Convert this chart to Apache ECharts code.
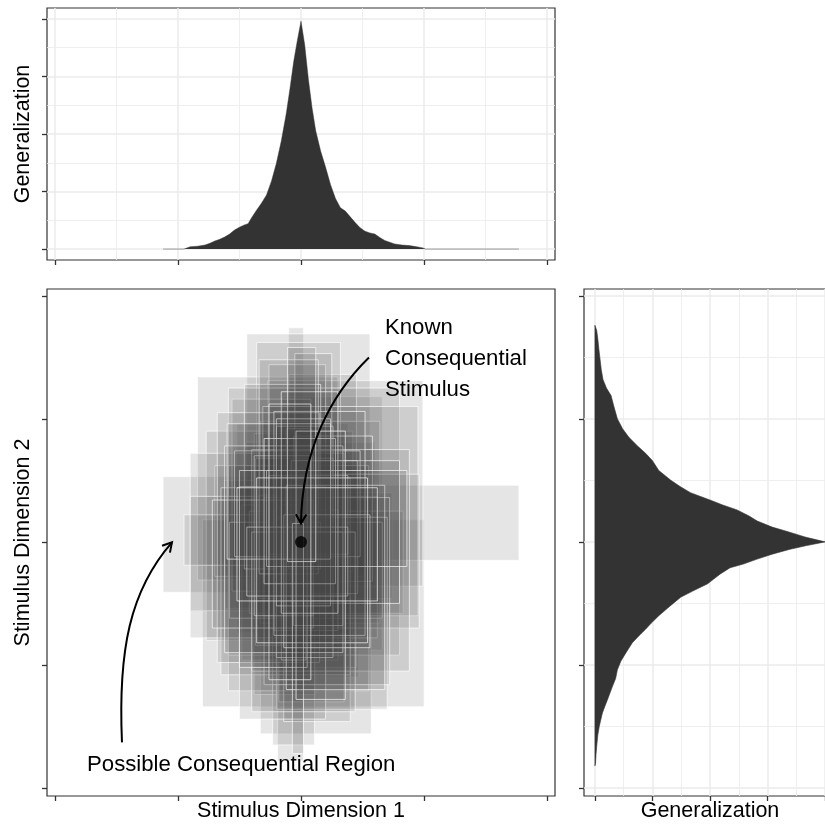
<!DOCTYPE html>
<html><head><meta charset="utf-8">
<script src="https://cdn.jsdelivr.net/npm/echarts@6/dist/echarts.min.js"></script>
<style>html,body{margin:0;padding:0;background:#fff}#chart{width:825px;height:827px}</style>
</head><body><div id="chart"></div>
<script>
// ---- tick positions ----
const dimMajorTicks = [-2, -1, 0, 1, 2];
const dimMinorTicks = [-1.5, -0.5, 0.5, 1.5];
const genMajorTicks = [0, 1, 2, 3, 4];
const genMinorTicks = [0.5, 1.5, 2.5, 3.5];

// ---- hypothesised consequential regions (rectangles) ----
const rectX1 = [-1.12,-0.52,-0.10,-0.18,-0.80,-0.28,-0.44,-0.45,-0.10,-0.45,
 -0.15,-0.84,-0.62,-0.24,-0.33,-0.38,-0.77,-0.24,-0.06,-0.27,
 -0.70,-0.19,-0.10,-0.30,-0.90,-0.48,-0.36,-0.33,-0.14,-0.59,
 -0.56,-0.95,-0.18,-0.20,-0.59,-0.42,-0.23,-0.26,-0.08,-0.90,
 -0.65,-0.31,-0.06,-0.34,-0.05,-0.37,-0.12,-0.58,-0.12,-0.68,
 -0.14,-0.22,-0.40,-0.46,-0.04,-0.20,-0.30,-0.16,-0.50,-0.54,
 -0.26,-0.20,-0.72,-0.10,-0.08,-0.40,-0.38,-0.34,-0.62,-0.06,
 -0.22,-0.50,-0.20,-0.12,-0.44,-0.14,-0.28,-0.60,-0.30,-0.16,
 -0.36,-0.07,-0.04,-0.52,-0.11,-0.26];
const rectX2 = [0.35,0.38,0.02,0.22,1.00,0.47,0.56,0.60,0.32,1.77,
 0.66,0.30,0.18,0.14,0.57,0.12,0.42,0.74,0.18,0.99,
 0.52,0.02,0.45,0.06,0.28,0.30,0.32,0.64,0.42,0.55,
 0.08,0.46,0.35,0.12,0.80,0.83,0.11,0.20,0.26,0.62,
 0.40,0.95,0.58,0.20,0.25,0.26,0.96,0.66,0.08,0.15,
 0.40,0.30,0.88,0.16,0.46,0.70,0.72,0.04,0.20,0.48,
 0.38,0.26,0.10,0.16,0.80,0.44,0.10,0.14,0.34,0.34,
 0.52,0.05,0.24,0.68,0.38,0.56,0.86,0.24,0.28,0.30,
 0.54,0.02,0.36,0.62,0.12,0.08];
const rectY1 = [-0.41,-0.74,-0.62,-0.40,-1.34,-1.10,-0.22,-0.35,-0.56,-0.15,
 -0.88,-0.31,-0.54,-0.30,-1.56,-1.24,-0.80,-0.46,-0.80,-0.36,
 -0.28,-1.78,-1.02,-0.18,-0.56,-0.96,-0.48,-0.66,-0.24,-1.21,
 -0.40,-0.19,-1.30,-0.64,-0.92,-0.58,-1.65,-0.70,-0.12,-0.78,
 -1.08,-0.60,-0.32,-0.46,-0.30,-0.84,-0.70,-0.62,-0.36,-0.98,
 -1.46,-0.72,-1.05,-0.22,-0.42,-1.36,-1.16,-0.96,-1.44,-0.12,
 -0.10,-0.94,-0.70,-0.22,-0.50,-1.38,-0.60,-0.26,-0.90,-0.68,
 -0.76,-1.02,-0.52,-1.20,-0.44,-0.86,-0.20,-0.14,-0.34,-0.58,
 -0.82,-1.72,-1.28,-0.48,-0.16,-1.12];
const rectY2 = [0.53,0.96,1.74,0.62,0.18,0.64,1.69,0.81,0.36,0.46,
 1.18,1.34,0.50,0.28,0.34,0.88,0.90,0.40,0.52,1.31,
 0.62,0.28,1.36,0.78,0.72,0.30,1.62,0.98,0.20,0.62,
 1.16,0.22,0.72,0.14,1.25,0.25,0.52,1.44,0.48,0.37,
 0.44,1.10,0.86,0.38,1.53,0.68,0.55,0.16,0.92,1.05,
 0.52,0.26,0.75,1.28,0.66,0.20,0.36,0.30,0.45,0.74,
 0.54,0.94,0.34,0.16,0.66,0.08,0.70,1.48,0.78,0.08,
 1.06,0.58,1.00,0.46,0.12,0.22,0.58,0.96,0.84,1.22,
 0.52,0.15,0.90,0.44,1.58,1.12];

// ---- known consequential stimulus ----
const stimulusX = [0];
const stimulusY = [0];

// ---- generalization along dimension 1 (top panel) ----
const gen1X = [-1.12,-0.95,-0.94,-0.90,-0.84,-0.78,-0.74,-0.70,-0.66,-0.62,-0.58,-0.54,-0.50,-0.46,-0.43,
 -0.40,-0.36,-0.32,-0.28,-0.24,-0.20,-0.16,-0.12,-0.09,-0.06,-0.03,0,0.03,0.06,0.09,0.12,0.16,0.20,
 0.24,0.28,0.32,0.36,0.40,0.44,0.48,0.52,0.56,0.60,0.64,0.68,0.72,0.76,0.82,0.88,0.94,0.99,1.01,1.77];
const gen1V = [0,0,0.02,0.04,0.05,0.07,0.10,0.14,0.17,0.21,0.26,0.33,0.38,0.42,0.44,
 0.55,0.68,0.80,0.94,1.18,1.49,1.88,2.35,2.78,3.25,3.62,3.96,3.55,2.95,2.45,2.05,1.70,1.42,
 1.12,0.88,0.72,0.66,0.56,0.46,0.37,0.31,0.28,0.26,0.20,0.15,0.12,0.09,0.07,0.06,0.04,0.02,0,0];

// ---- generalization along dimension 2 (right panel) ----
const gen2Y = [1.76,1.72,1.65,1.56,1.48,1.40,1.32,1.25,1.19,1.10,1.00,0.92,0.85,0.78,0.72,0.66,0.58,0.50,
 0.45,0.40,0.34,0.30,0.26,0.21,0.17,0.12,0.085,0.04,0,-0.03,-0.06,-0.10,-0.14,-0.18,-0.21,-0.26,-0.30,
 -0.34,-0.40,-0.45,-0.50,-0.54,-0.60,-0.66,-0.71,-0.76,-0.82,-0.90,-0.97,-1.04,-1.11,-1.18,-1.28,-1.34,
 -1.39,-1.45,-1.50,-1.57,-1.64,-1.72,-1.80,-1.82];
const gen2V = [0,0.03,0.05,0.07,0.09,0.11,0.14,0.20,0.28,0.33,0.39,0.48,0.59,0.74,0.88,1.00,1.11,1.32,
 1.48,1.66,2.00,2.22,2.47,2.68,2.82,3.08,3.34,3.65,4.00,3.68,3.39,3.08,2.82,2.58,2.35,2.18,2.07,
 1.96,1.70,1.49,1.36,1.26,1.11,0.98,0.88,0.77,0.65,0.54,0.45,0.39,0.36,0.30,0.22,0.17,
 0.13,0.10,0.075,0.05,0.035,0.02,0.01,0];

// ---- annotations (data units) ----
const arrowCurves = [
  [0.552, 1.499, 0.236, 1.190, 0.008, 0.743, 0.000, 0.150],
  [-1.454, -1.629, -1.487, -0.881, -1.389, -0.394, -1.048, -0.004]
];
const labelText = ['Known\nConsequential\nStimulus', 'Possible Consequential Region'];
const labelX = [0.682, -1.738];
const labelY = [1.491, -1.816];

// ---- styles ----
const FONT = 'Liberation Sans';
const frame = { show: true, borderColor: '#333333', borderWidth: 1.2, backgroundColor: 'rgba(0,0,0,0)', outerBoundsMode: 'none', containLabel: false };
const gridColor = '#ebebeb';

function majorAxis(grid, min, max, ticks, opts) {
  return Object.assign({
    type: 'value', gridIndex: grid, min: min, max: max,
    axisLine: { show: false, onZero: false },
    axisTick: { show: true, inside: false, length: 5, customValues: ticks, lineStyle: { color: '#333333', width: 1.3 } },
    axisLabel: { show: false, customValues: ticks },
    splitLine: { show: false },
    nameTextStyle: { fontSize: 21.5, color: '#000', fontFamily: FONT },
    nameLocation: 'middle'
  }, opts || {});
}
function minorAxis(grid, min, max, ticks, position) {
  return {
    type: 'value', gridIndex: grid, min: min, max: max, position: position,
    axisLine: { show: false, onZero: false },
    axisTick: { show: false, customValues: ticks },
    axisLabel: { show: false, customValues: ticks },
    splitLine: { show: true, lineStyle: { color: gridColor, width: 0.8 } }
  };
}
const majorSplit = { show: true, lineStyle: { color: gridColor, width: 1.5 } };

const option = {
  animation: false,
  backgroundColor: '#ffffff',
  textStyle: { fontFamily: FONT },
  grid: [
    Object.assign({ left: 47, top: 8, width: 508, height: 252 }, frame),
    Object.assign({ left: 47, top: 289, width: 508, height: 507 }, frame),
    Object.assign({ left: 584, top: 289, width: 252, height: 507 }, frame)
  ],
  xAxis: [
    majorAxis(0, -2.063, 2.063, dimMajorTicks, { position: 'bottom', splitLine: majorSplit }),
    minorAxis(0, -2.063, 2.063, dimMinorTicks, 'top'),
    majorAxis(1, -2.063, 2.063, dimMajorTicks, { position: 'bottom', name: 'Stimulus Dimension 1', nameGap: 4 }),
    majorAxis(2, -0.19, 4.19, genMajorTicks, { position: 'bottom', splitLine: majorSplit, name: 'Generalization', nameGap: 4 }),
    minorAxis(2, -0.19, 4.19, genMinorTicks, 'top')
  ],
  yAxis: [
    majorAxis(0, -0.19, 4.19, genMajorTicks, { position: 'left', splitLine: majorSplit, name: 'Generalization', nameGap: 13 }),
    minorAxis(0, -0.19, 4.19, genMinorTicks, 'right'),
    majorAxis(1, -2.065, 2.055, dimMajorTicks, { position: 'left', name: 'Stimulus Dimension 2', nameGap: 13 }),
    majorAxis(2, -2.065, 2.055, dimMajorTicks, { position: 'left', splitLine: majorSplit }),
    minorAxis(2, -2.065, 2.055, dimMinorTicks, 'right')
  ],
  series: [
    {
      name: 'Generalization (dimension 1)', type: 'line', xAxisIndex: 0, yAxisIndex: 0,
      data: gen1X.map((x, i) => [x, gen1V[i]]),
      symbol: 'none', smooth: false, z: 3,
      lineStyle: { color: '#333333', width: 1, opacity: 0.45 },
      areaStyle: { color: '#333333', opacity: 1 }
    },
    {
      name: 'Consequential regions', type: 'custom', xAxisIndex: 2, yAxisIndex: 2,
      data: rectX1.map((x, i) => [x, rectX2[i], rectY1[i], rectY2[i]]),
      encode: { x: [0, 1], y: [2, 3] },
      clip: true, z: 2,
      renderItem: function (params, api) {
        const a = api.coord([api.value(0), api.value(3)]);
        const b = api.coord([api.value(1), api.value(2)]);
        return {
          type: 'rect',
          shape: { x: a[0], y: a[1], width: b[0] - a[0], height: b[1] - a[1] },
          style: { fill: 'rgba(74,74,74,0.14)', stroke: 'rgba(255,255,255,0.85)', lineWidth: 0.8 }
        };
      }
    },
    {
      name: 'Known consequential stimulus', type: 'scatter', xAxisIndex: 2, yAxisIndex: 2,
      data: stimulusX.map((x, i) => [x, stimulusY[i]]),
      symbol: 'circle', symbolSize: 12, itemStyle: { color: '#000000' }, z: 5
    },
    {
      name: 'Arrows', type: 'custom', xAxisIndex: 2, yAxisIndex: 2,
      data: arrowCurves, encode: { x: [0, 2, 4, 6], y: [1, 3, 5, 7] }, z: 6, clip: false,
      renderItem: function (params, api) {
        const p0 = api.coord([api.value(0), api.value(1)]);
        const c1 = api.coord([api.value(2), api.value(3)]);
        const c2 = api.coord([api.value(4), api.value(5)]);
        const p3 = api.coord([api.value(6), api.value(7)]);
        const ang = Math.atan2(p3[1] - c2[1], p3[0] - c2[0]);
        const L = 10.5, h = Math.PI / 6;
        const l1 = [p3[0] - L * Math.cos(ang - h), p3[1] - L * Math.sin(ang - h)];
        const l2 = [p3[0] - L * Math.cos(ang + h), p3[1] - L * Math.sin(ang + h)];
        return {
          type: 'group',
          children: [
            { type: 'bezierCurve', shape: { x1: p0[0], y1: p0[1], cpx1: c1[0], cpy1: c1[1], cpx2: c2[0], cpy2: c2[1], x2: p3[0], y2: p3[1] },
              style: { stroke: '#000', lineWidth: 2, fill: null } },
            { type: 'polyline', shape: { points: [l1, p3, l2] },
              style: { stroke: '#000', lineWidth: 2, fill: null, lineJoin: 'miter' } }
          ]
        };
      }
    },
    {
      name: 'Labels', type: 'custom', xAxisIndex: 2, yAxisIndex: 2,
      data: labelX.map((x, i) => [x, labelY[i], i]), z: 7, clip: false,
      renderItem: function (params, api) {
        const p = api.coord([api.value(0), api.value(1)]);
        return {
          type: 'text', x: p[0], y: p[1],
          style: { text: labelText[api.value(2)], fontSize: 22.2, fontFamily: FONT, fill: '#000',
                   align: 'left', verticalAlign: 'middle', lineHeight: 31 }
        };
      }
    },
    {
      name: 'Generalization (dimension 2)', type: 'custom', xAxisIndex: 3, yAxisIndex: 3,
      data: gen2V.map((v, i) => [v, gen2Y[i]]), z: 3, clip: true,
      renderItem: function (params, api) {
        if (params.dataIndex !== 0) return { type: 'group', children: [] };
        const n = params.dataInsideLength;
        const pts = [api.coord([0, api.value(1, 0)])];
        for (let i = 0; i < n; i++) pts.push(api.coord([api.value(0, i), api.value(1, i)]));
        pts.push(api.coord([0, api.value(1, n - 1)]));
        return { type: 'polygon', shape: { points: pts },
                 style: { fill: '#333333', stroke: '#333333', lineWidth: 0.6 } };
      }
    }
  ]
};
const chart = echarts.init(document.getElementById('chart'), null, { renderer: 'canvas' });
chart.setOption(option);
</script>
</body></html>
